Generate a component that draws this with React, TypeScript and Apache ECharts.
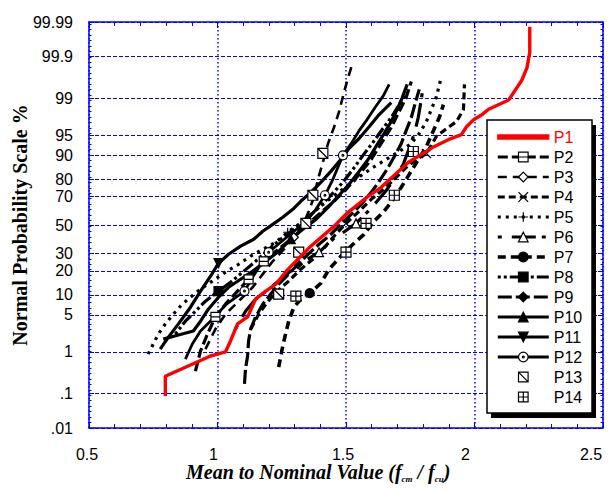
import React, { useEffect, useRef } from 'react';
import * as echarts from 'echarts';

// ---------- data (x = mean/nominal, p = cumulative probability %) ----------
const probTickValues = [0.01, 0.1, 1, 5, 10, 20, 30, 50, 70, 80, 90, 95, 99, 99.9, 99.99];
const probTickLabels = ['.01', '.1', '1', '5', '10', '20', '30', '50', '70', '80', '90', '95', '99', '99.9', '99.99'];
const xTickValues = [0.5, 1, 1.5, 2, 2.5];
const xTickLabels = ['0.5', '1', '1.5', '2', '2.5'];

const p1X = [0.797, 0.797, 0.973, 1.031, 1.051, 1.078, 1.117, 1.148, 1.188, 1.227, 1.273, 1.363, 1.453, 1.508, 1.586, 1.637, 1.742, 1.844, 1.898, 1.949, 1.969, 1.996, 2.027, 2.055, 2.133, 2.184, 2.204, 2.215, 2.215];
const p1P = [0.087, 0.28, 0.82, 1.0, 1.7, 3.5, 4.6, 8.7, 11.3, 13.9, 20.7, 34.9, 49.0, 59.2, 70.0, 75.5, 87.4, 92.5, 94.1, 95.1, 96.4, 97.3, 97.8, 98.3, 98.9, 99.6, 99.8, 99.92, 99.986];

const p2X = [0.914, 0.934, 0.961, 0.992, 1.031, 1.078, 1.121, 1.152, 1.180, 1.227, 1.285, 1.336, 1.395, 1.449, 1.500, 1.551, 1.598, 1.637, 1.676, 1.707, 1.734, 1.754];
const p2P = [0.37, 1.05, 2.29, 4.6, 7.35, 11.3, 16.0, 20.9, 25.3, 31.5, 39.7, 48.3, 57.8, 66.1, 74.3, 82.3, 88.5, 93.24, 96.3, 98.12, 99.02, 99.57];
const p2Marks = [3, 6, 8];

const p3X = [0.953, 0.992, 1.031, 1.090, 1.137, 1.176, 1.215, 1.258, 1.297, 1.332, 1.355, 1.375, 1.391, 1.410, 1.430, 1.453, 1.473, 1.492, 1.508, 1.527];
const p3P = [1.15, 2.83, 5.1, 8.7, 12.7, 18.4, 25.3, 32.8, 41.1, 49.8, 59.9, 69.4, 79.9, 87.4, 93.2, 96.3, 98.1, 99.24, 99.65, 99.86];
const p3Marks = [8];

const p4X = [1.129, 1.160, 1.188, 1.227, 1.277, 1.324, 1.371, 1.410, 1.453, 1.500, 1.551, 1.598, 1.645, 1.695, 1.734, 1.773, 1.813, 1.852, 1.898, 1.930, 1.957, 1.961];
const p4P = [2.83, 5.1, 7.35, 10.9, 15.2, 20.9, 26.5, 32.8, 41.8, 51.2, 59.9, 68.1, 74.3, 80.8, 85.4, 88.5, 90.5, 94.8, 96.3, 97.1, 98.28, 99.5];
const p4Marks = [3, 9, 16];

const p5X = [0.730, 0.750, 0.770, 0.797, 0.828, 0.863, 0.895, 0.934, 0.980, 1.031, 1.082, 1.129, 1.176, 1.227, 1.273, 1.316, 1.363, 1.410, 1.461, 1.512, 1.559, 1.605, 1.656, 1.707, 1.754, 1.785, 1.813, 1.832, 1.852, 1.871];
const p5P = [0.90, 1.46, 2.29, 3.5, 5.1, 7.35, 9.3, 12.0, 15.2, 19.4, 23.6, 28.4, 32.8, 37.6, 44.7, 50.5, 57.8, 64.7, 71.3, 77.2, 81.8, 85.4, 88.5, 91.1, 93.2, 95.3, 97.1, 98.28, 99.07, 99.67];
const p5Marks = [14];

const p6X = [1.070, 1.109, 1.148, 1.199, 1.246, 1.293, 1.336, 1.395, 1.449, 1.496, 1.539, 1.582, 1.621, 1.660, 1.691, 1.723, 1.746, 1.766, 1.781, 1.793, 1.801];
const p6P = [2.83, 5.7, 8.7, 12.0, 16.0, 20.9, 25.3, 30.9, 39.7, 45.4, 51.2, 59.2, 66.8, 74.3, 80.8, 86.7, 92.0, 95.3, 97.55, 98.92, 99.5];
const p6Marks = [7, 10];

const p7X = [1.238, 1.250, 1.262, 1.277, 1.297, 1.324, 1.359, 1.402, 1.434, 1.480, 1.527, 1.570, 1.609, 1.648, 1.684, 1.715, 1.746, 1.777, 1.813, 1.840, 1.863, 1.879];
const p7P = [0.46, 1.05, 2.0, 3.9, 6.6, 8.7, 10.6, 14.3, 20.9, 28.4, 36.2, 43.2, 52.7, 59.9, 68.1, 75.5, 82.3, 87.8, 92.5, 95.8, 97.55, 98.63];
const p7Marks = [6];

const p8X = [0.836, 0.875, 0.914, 0.953, 1.004, 1.051, 1.098, 1.148, 1.199, 1.246, 1.297, 1.344, 1.395, 1.441, 1.488, 1.527, 1.566, 1.605, 1.645, 1.676, 1.707, 1.734];
const p8P = [2.29, 3.9, 5.7, 8.15, 11.3, 14.7, 19.4, 25.3, 32.8, 39.7, 46.9, 54.1, 62.7, 70.7, 78.3, 84.6, 89.9, 93.5, 96.2, 97.55, 98.63, 99.27];
const p8Marks = [4];

const p9X = [1.105, 1.109, 1.117, 1.121, 1.129, 1.148, 1.176, 1.207, 1.238, 1.277, 1.313, 1.352, 1.395, 1.441, 1.480, 1.520, 1.559, 1.598, 1.629, 1.660, 1.688, 1.715, 1.734, 1.754, 1.770, 1.785];
const p9P = [0.18, 0.42, 0.82, 1.68, 2.83, 4.6, 7.35, 10.3, 13.9, 18.4, 23.6, 29.6, 36.2, 43.2, 50.5, 57.8, 64.7, 72.5, 78.8, 84.6, 89.5, 93.2, 95.8, 97.55, 98.75, 99.35];
const p9Marks = [10];

const p10X = [0.789, 0.848, 0.906, 0.934, 0.965, 1.004, 1.043, 1.090, 1.137, 1.188, 1.238, 1.285, 1.332, 1.383, 1.430, 1.473, 1.512, 1.551, 1.586, 1.617, 1.648, 1.676, 1.699, 1.719, 1.738];
const p10P = [1.83, 2.19, 2.6, 3.9, 6.2, 9.3, 12.7, 16.0, 19.9, 25.3, 31.5, 39.7, 46.9, 54.1, 62.7, 70.7, 77.2, 83.7, 88.5, 92.5, 95.3, 97.1, 98.28, 99.02, 99.5];
const p10Marks = [11];

const p11X = [0.777, 0.809, 0.848, 0.895, 0.934, 0.973, 1.004, 1.043, 1.090, 1.141, 1.176, 1.215, 1.254, 1.293, 1.324, 1.363, 1.402, 1.441, 1.480, 1.512, 1.551, 1.590, 1.629, 1.676];
const p11P = [1.15, 2.0, 3.5, 6.6, 11.3, 17.4, 24.2, 29.6, 34.9, 39.7, 45.4, 50.5, 55.6, 61.3, 66.8, 72.5, 78.3, 83.7, 88.5, 92.0, 94.35, 96.4, 97.85, 98.75];
const p11Marks = [6];

const p12X = [0.875, 0.902, 0.934, 0.980, 1.035, 1.105, 1.137, 1.168, 1.199, 1.246, 1.293, 1.344, 1.383, 1.418, 1.449, 1.488, 1.520, 1.551, 1.582, 1.613, 1.645, 1.668];
const p12P = [0.70, 1.46, 2.6, 4.2, 7.35, 11.3, 17.0, 23.6, 30.9, 37.6, 44.7, 52.7, 61.3, 70.7, 79.9, 89.9, 93.2, 95.8, 97.33, 98.43, 99.1, 99.5];
const p12Marks = [5, 8, 13, 15];

const p13X = [1.238, 1.316, 1.344, 1.371, 1.410];
const p13P = [10.3, 30.9, 51.2, 70.7, 90.5];

const p14X = [1.305, 1.500, 1.578, 1.688, 1.762];
const p14P = [9.6, 30.9, 51.2, 70.7, 91.1];

// ---------- normal probability scale ----------
function probit(p: number): number {
  const a = [-3.969683028665376e1, 2.209460984245205e2, -2.759285104469687e2, 1.38357751867269e2, -3.066479806614716e1, 2.506628277459239];
  const b = [-5.447609879822406e1, 1.615858368580409e2, -1.556989798598866e2, 6.680131188771972e1, -1.328068155288572e1];
  const c = [-7.784894002430293e-3, -3.223964580411365e-1, -2.400758277161838, -2.549732539343734, 4.374664141464968, 2.938163982698783];
  const d = [7.784695709041462e-3, 3.224671290700398e-1, 2.445134137142996, 3.754408661907416];
  const pl = 0.02425;
  if (p < pl) {
    const q = Math.sqrt(-2 * Math.log(p));
    return (((((c[0] * q + c[1]) * q + c[2]) * q + c[3]) * q + c[4]) * q + c[5]) / ((((d[0] * q + d[1]) * q + d[2]) * q + d[3]) * q + 1);
  }
  if (p <= 1 - pl) {
    const q = p - 0.5;
    const r = q * q;
    return ((((((a[0] * r + a[1]) * r + a[2]) * r + a[3]) * r + a[4]) * r + a[5]) * q) / (((((b[0] * r + b[1]) * r + b[2]) * r + b[3]) * r + b[4]) * r + 1);
  }
  const q = Math.sqrt(-2 * Math.log(1 - p));
  return -(((((c[0] * q + c[1]) * q + c[2]) * q + c[3]) * q + c[4]) * q + c[5]) / ((((d[0] * q + d[1]) * q + d[2]) * q + d[3]) * q + 1);
}
const toZ = (pct: number) => probit(pct / 100);

const BLUE = '#0000ff';
const FONT = '"Liberation Sans", Arial, sans-serif';
const SERIF = '"Liberation Serif", "Times New Roman", serif';

const SYM_P2 = 'path://M0,0H10V10H0Z M0,5H10';
const SYM_CROSS = 'path://M0,0L10,10M10,0L0,10';
const SYM_PLUS = 'path://M5,0V10M0,5H10';
const SYM_DOWN = 'path://M0,0H10L5,10Z';
const SYM_DOT = 'path://M0,5A5,5,0,1,0,10,5A5,5,0,1,0,0,5Z M4,5A1,1,0,1,0,6,5A1,1,0,1,0,4,5Z';
const SYM_P13 = 'path://M0,0H10V10H0Z M0,0L10,10';
const SYM_P14 = 'path://M0,0H10V10H0Z M5,0V10M0,5H10';

// label nudges (px to the left) as in the reference picture
const xLabelShift = [2, 4, 3, 9, 12];

type St = { symbol: string; fill: string; dash?: any; width?: number; hideLine?: boolean; size?: number };

function buildSeries(name: string, xs: number[], ps: number[], marks: number[] | null, st: St) {
  return {
    type: 'line',
    name,
    xAxisIndex: 0,
    yAxisIndex: 0,
    symbol: st.symbol,
    symbolSize: st.size ?? 9,
    showAllSymbol: true,
    silent: true,
    z: 2,
    data: xs.map((x, i) => {
      const item: any = { value: [x, toZ(ps[i])] };
      if (marks && !marks.includes(i)) item.symbol = 'none';
      return item;
    }),
    lineStyle: st.hideLine
      ? { color: 'rgba(0,0,0,0)', width: 0 }
      : { color: '#000', width: st.width ?? 3.2, type: st.dash ?? 'solid' },
    itemStyle: { color: st.fill, borderColor: '#000', borderWidth: 1.2 },
  };
}

export default function App() {
  const ref = useRef<HTMLDivElement>(null);
  useEffect(() => {
    document.body.style.margin = '0';
    const chart = echarts.init(ref.current!, null, { renderer: 'svg' });
    const tickZ = probTickValues.map(toZ);
    const yMin = toZ(0.01);
    const yMax = toZ(99.99);
    const labelFor = (v: number) => {
      let best = 0;
      for (let i = 1; i < tickZ.length; i++) if (Math.abs(tickZ[i] - v) < Math.abs(tickZ[best] - v)) best = i;
      return probTickLabels[best];
    };
    const xRich: any = {};
    xLabelShift.forEach((s, i) => {
      xRich['s' + i] = { fontSize: 16, fontFamily: FONT, color: '#000', padding: [0, 2 * s, 0, 0] };
    });
    const xLabelFor = (v: number) => {
      let best = 0;
      for (let i = 1; i < xTickValues.length; i++) if (Math.abs(xTickValues[i] - v) < Math.abs(xTickValues[best] - v)) best = i;
      return `{s${best}|${xTickLabels[best]}}`;
    };

    const series: any[] = [
      buildSeries('P2', p2X, p2P, p2Marks, { symbol: SYM_P2, fill: '#fff', dash: [10, 4] }),
      buildSeries('P3', p3X, p3P, p3Marks, { symbol: 'diamond', fill: '#fff', dash: [9, 6], width: 2.6 }),
      buildSeries('P4', p4X, p4P, p4Marks, { symbol: SYM_CROSS, fill: '#fff', dash: [7, 4] }),
      buildSeries('P5', p5X, p5P, p5Marks, { symbol: SYM_PLUS, fill: '#fff', dash: [3, 5] }),
      buildSeries('P6', p6X, p6P, p6Marks, { symbol: 'triangle', fill: '#fff', dash: [4, 10, 24, 6] }),
      buildSeries('P7', p7X, p7P, p7Marks, { symbol: 'circle', fill: '#000', dash: [8, 5], width: 3.6 }),
      buildSeries('P8', p8X, p8P, p8Marks, { symbol: 'rect', fill: '#000', dash: [3, 3, 3, 3, 12, 3] }),
      buildSeries('P9', p9X, p9P, p9Marks, { symbol: 'diamond', fill: '#000', dash: [14, 4] }),
      buildSeries('P10', p10X, p10P, p10Marks, { symbol: 'triangle', fill: '#000' }),
      buildSeries('P11', p11X, p11P, p11Marks, { symbol: SYM_DOWN, fill: '#000' }),
      buildSeries('P12', p12X, p12P, p12Marks, { symbol: SYM_DOT, fill: '#fff', width: 2.8 }),
      buildSeries('P13', p13X, p13P, null, { symbol: SYM_P13, fill: '#fff', hideLine: true, size: 10 }),
      buildSeries('P14', p14X, p14P, null, { symbol: SYM_P14, fill: '#fff', hideLine: true, size: 10 }),
      {
        type: 'line',
        name: 'P1',
        symbol: 'none',
        silent: true,
        z: 3,
        data: p1X.map((x, i) => [x, toZ(p1P[i])]),
        lineStyle: { color: '#ff0000', width: 3.4 },
        itemStyle: { color: '#ff0000', borderColor: '#ff0000' },
      },
    ];

    const xCommon = {
      type: 'value',
      min: 0.5,
      max: 2.5,
      interval: 0.5,
      axisLine: { show: true, onZero: false, lineStyle: { color: BLUE, width: 1.5 } },
      axisTick: { show: true, inside: true, length: 6, lineStyle: { color: BLUE, width: 1 } },
      minorTick: { show: true, splitNumber: 5, length: 4, lineStyle: { color: BLUE, width: 1 } },
    };
    const yCommon = {
      type: 'value',
      min: yMin,
      max: yMax,
      axisLine: { show: true, onZero: false, lineStyle: { color: BLUE, width: 1.5 } },
    };
    const yMinor = {
      type: 'value',
      min: yMin,
      max: yMax,
      interval: 0.1,
      axisLine: { show: false },
      axisLabel: { show: false },
      splitLine: { show: false },
      axisTick: { show: true, inside: true, length: 2.5, lineStyle: { color: BLUE, width: 1 } },
    };

    chart.setOption({
      animation: false,
      backgroundColor: '#fff',
      grid: { left: 89, right: 11, top: 22, bottom: 62, containLabel: false },
      xAxis: [
        {
          ...xCommon,
          position: 'bottom',
          axisLabel: { show: true, margin: 18, color: '#000', fontSize: 16, fontFamily: FONT, formatter: xLabelFor, rich: xRich },
          splitLine: { show: true, lineStyle: { color: BLUE, type: [1.5, 2.5], width: 1.5 } },
        },
        {
          ...xCommon,
          position: 'top',
          axisLabel: { show: false },
          splitLine: { show: false },
        },
      ],
      yAxis: [
        {
          ...yCommon,
          position: 'left',
          axisTick: { show: true, inside: true, length: 5, customValues: tickZ, lineStyle: { color: BLUE } },
          axisLabel: {
            show: true,
            customValues: tickZ,
            formatter: (v: number) => labelFor(v),
            margin: 16,
            color: '#000',
            fontSize: 16,
            fontFamily: FONT,
          },
          splitLine: { show: true, lineStyle: { color: BLUE, type: [4, 2], width: 1 } },
        },
        {
          ...yCommon,
          position: 'right',
          axisTick: { show: true, inside: true, length: 5, customValues: tickZ, lineStyle: { color: BLUE } },
          axisLabel: { show: false },
          splitLine: { show: false },
        },
        { ...yMinor, position: 'left' },
        { ...yMinor, position: 'right' },
      ],
      legend: {
        orient: 'vertical',
        left: 487,
        top: 120,
        padding: [9, 8, 8, 9],
        itemWidth: 51,
        itemHeight: 12,
        itemGap: 4,
        selectedMode: false,
        backgroundColor: 'transparent',
        borderWidth: 0,
        textStyle: { fontSize: 16, fontFamily: FONT, color: '#000' },
        lineStyle: { width: 'inherit' },
        itemStyle: { borderWidth: 1.2 },
        data: [
          { name: 'P1', icon: 'path://M0,0H50V4H0Z', textStyle: { color: '#ff0000' } },
          'P2', 'P3', 'P4', 'P5', 'P6', 'P7', 'P8', 'P9', 'P10', 'P11', 'P12', 'P13', 'P14',
        ],
      },
      graphic: [
        {
          type: 'rect',
          z: 3,
          shape: { x: 491, y: 125, width: 105, height: 293 },
          style: { fill: '#000' },
          silent: true,
        },
        {
          type: 'rect',
          z: 3,
          shape: { x: 487, y: 120, width: 105, height: 293 },
          style: { fill: '#fff', stroke: '#000', lineWidth: 1.5 },
          silent: true,
        },
        {
          type: 'text',
          x: 20,
          y: 225,
          rotation: Math.PI / 2,
          style: {
            text: 'Normal Probability Scale %',
            fontFamily: SERIF,
            fontWeight: 'bold',
            fontSize: 20,
            fill: '#000',
            align: 'center',
            verticalAlign: 'middle',
          },
        },
        {
          type: 'text',
          left: 186,
          top: 462,
          style: {
            text: 'Mean to Nominal Value (f{s|cm} / f{s|cu})',
            fontFamily: SERIF,
            fontWeight: 'bold',
            fontStyle: 'italic',
            fontSize: 20,
            fill: '#000',
            rich: {
              s: { fontFamily: SERIF, fontWeight: 'bold', fontStyle: 'italic', fontSize: 9, padding: [14, 0, 0, 0] },
            },
          },
        },
      ],
      series,
    });
    return () => chart.dispose();
  }, []);
  return <div ref={ref} style={{ width: 614, height: 490 }} />;
}
